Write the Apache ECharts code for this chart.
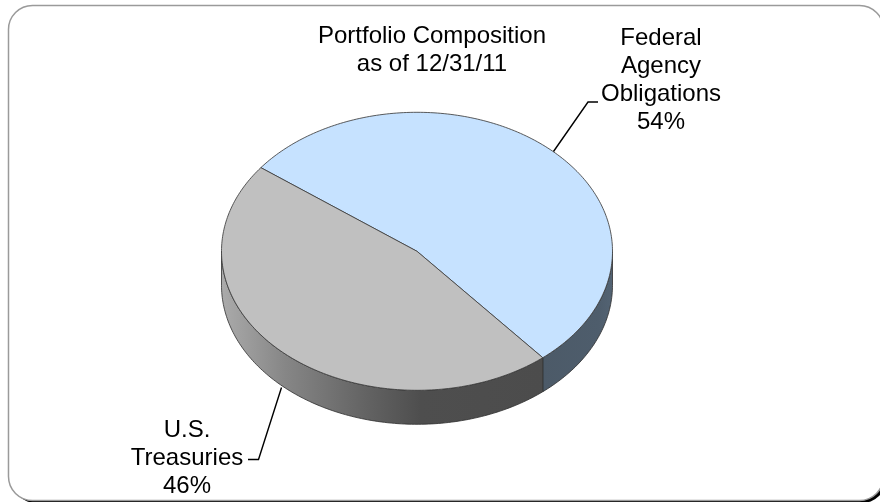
<!DOCTYPE html>
<html><head><meta charset="utf-8">
<style>html,body{margin:0;padding:0;background:#fff}#c{width:880px;height:502px}</style>
<script src="https://cdn.jsdelivr.net/npm/echarts@6/dist/echarts.min.js"></script>
</head><body><div id="c"></div>
<script>
const categories = ['Federal\nAgency\nObligations', 'U.S.\nTreasuries'];
const shares = [53.6, 46.4];
const titleLines = ['Portfolio Composition', 'as of 12/31/11'];

const topColors = ['#c6e2ff', '#c0c0c0'];
const C = {x: 417, y: 251.3, rx: 195.5, ry: 139, depth: 34, start: -53};
const labelAt = [{x: 661, y: 80.5}, {x: 187, y: 458.5}];
const leaders = [
  [[553.5, 151.5], [588, 102], [598, 102]],
  [[281.5, 387.5], [258.5, 459.5], [248, 459.5]]
];
const wallFill = [
  new echarts.graphic.LinearGradient(0, 0, 1, 0, [
    {offset: 0, color: '#4c5a68'}, {offset: 0.8, color: '#4e5d6c'}, {offset: 1, color: '#536373'}]),
  new echarts.graphic.LinearGradient(0, 0, 1, 0, [
    {offset: 0, color: '#ababab'}, {offset: 0.2, color: '#868686'}, {offset: 0.45, color: '#636363'},
    {offset: 0.62, color: '#4e4e4e'}, {offset: 1, color: '#4c4c4c'}])
];
const total = shares.reduce((a, b) => a + b, 0);
const pt = (deg, dy) => {
  const r = deg * Math.PI / 180;
  return [C.x + C.rx * Math.sin(r), C.y - C.ry * Math.cos(r) + (dy || 0)];
};
const arc = (a, b, dy) => {
  const out = [], n = Math.max(2, Math.ceil(Math.abs(b - a)));
  for (let i = 0; i <= n; i++) out.push(pt(a + (b - a) * i / n, dy));
  return out;
};
function renderSlice(params, api) {
  const i = params.dataIndex;
  let before = 0;
  for (let k = 0; k < i; k++) before += shares[k];
  const a = C.start + before / total * 360;
  const b = a + api.value(0) / total * 360;
  const children = [];
  const lo = Math.max(a, 90), hi = Math.min(b, 270);
  if (hi > lo) {
    children.push({type: 'polygon', shape: {points: arc(lo, hi, 0).concat(arc(hi, lo, C.depth))},
      style: {fill: wallFill[i], stroke: '#2e2e2e', lineWidth: 1, strokeOpacity: 0.8}});
  }
  children.push({type: 'polygon', shape: {points: [[C.x, C.y]].concat(arc(a, b, 0))},
    style: {fill: topColors[i], stroke: '#3e3e3e', lineWidth: 1, strokeOpacity: 0.85}});
  children.push({type: 'polyline', shape: {points: leaders[i]},
    style: {fill: 'none', stroke: '#000', lineWidth: 1.4}});
  children.push({type: 'text', x: labelAt[i].x, y: labelAt[i].y,
    style: {text: categories[i] + '\n' + Math.round(api.value(0)) + '%', align: 'center', verticalAlign: 'middle',
      font: '24px "Liberation Sans", Arial, sans-serif', lineHeight: 28, fill: '#000'}});
  return {type: 'group', children};
}
const chart = echarts.init(document.getElementById('c'), null, {renderer: 'canvas'});
chart.setOption({
  animation: false,
  backgroundColor: '#fff',
  title: {text: titleLines.join('\n'), left: 427, top: 17, textAlign: 'center',
    textStyle: {fontFamily: '"Liberation Sans", Arial, sans-serif', fontSize: 24, fontWeight: 'normal', color: '#000', lineHeight: 28}},
  graphic: [
    {type: 'rect', z: -2, shape: {x: 12, y: 9, width: 874, height: 494, r: 24}, style: {fill: '#000'}},
    {type: 'rect', z: -1, shape: {x: 8.5, y: 5.5, width: 875, height: 495, r: 24},
      style: {fill: '#fff', stroke: '#9a9a9a', lineWidth: 1.5}}
  ],
  series: [{type: 'custom', coordinateSystem: 'none', silent: true,
    data: shares.map((v, i) => ({name: categories[i], value: [v]})), renderItem: renderSlice}]
});
</script></body></html>
